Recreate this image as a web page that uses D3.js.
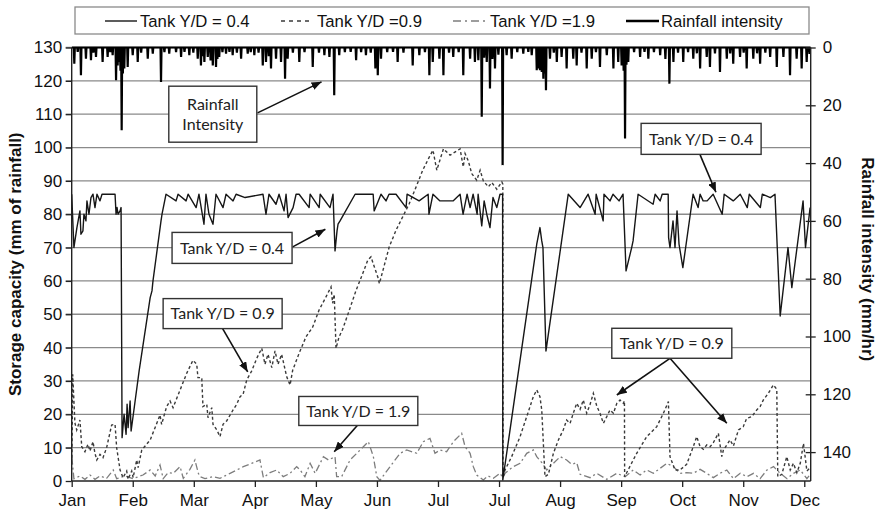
<!DOCTYPE html>
<html>
<head>
<meta charset="utf-8">
<script src="https://cdn.jsdelivr.net/npm/d3@7"></script>
<style>
  body { margin: 0; background: #fff; }
  svg { display: block; }
</style>
</head>
<body>
<svg id="chart" width="882" height="510"></svg>
<script>
// ---- axis categories / ticks ----
const monthLabels = ["Jan", "Feb", "Mar", "Apr", "May", "Jun", "Jul", "Jul", "Aug", "Sep", "Oct", "Nov", "Dec"];
const daysPerMonth = 365 / 12;
const storageTicks = [0, 10, 20, 30, 40, 50, 60, 70, 80, 90, 100, 110, 120, 130];
const intensityTicks = [0, 20, 40, 60, 80, 100, 120, 140];
const seriesNames = ["Tank Y/D = 0.4", "Tank Y/D =0.9", "Tank Y/D =1.9", "Rainfall intensity"];

// ---- storage in tank (mm of rainfall), [day, value] ----
const tank04 = [
  [0, 86], [1.1, 70], [2.6, 76], [4.1, 81], [4.6, 74], [5.6, 75], [6.1, 80], [7.1, 78], [7.6, 84], [8.6, 80],
  [9.6, 85], [10.6, 86], [11.6, 82], [12.6, 86], [14.1, 84], [15.1, 86], [21.6, 86], [22.1, 80], [22.6, 82], [23.1, 80],
  [24.1, 81], [24.6, 82], [25.1, 13], [26.1, 20], [27.1, 14], [27.6, 23], [28.1, 16], [29.1, 24], [29.6, 15], [33.6, 33],
  [39.1, 55], [40.0, 57], [40.5, 60], [44.5, 78], [45.0, 80], [47.0, 86], [52.0, 84], [53.0, 86], [57.0, 84], [58.0, 86],
  [62.0, 82], [63.4, 86], [65.9, 77], [66.9, 86], [68.4, 80], [70.4, 77], [71.9, 86], [75.4, 82], [76.9, 86], [80.4, 84],
  [81.9, 86], [86.4, 85], [95.3, 86], [96.8, 80], [98.3, 86], [101.8, 83], [103.3, 86], [105.8, 81], [106.8, 86], [107.8, 79],
  [110.3, 82], [111.8, 86], [113.3, 86], [118.3, 82], [118.8, 86], [123.3, 82], [123.8, 86], [128.7, 82], [130.2, 86], [131.2, 69],
  [132.2, 75], [132.7, 77], [133.7, 78], [141.2, 86], [150.2, 86], [150.7, 81], [152.1, 83], [154.1, 86], [156.6, 84], [158.1, 86],
  [161.6, 86], [166.6, 82], [167.1, 86], [173.1, 84], [177.6, 86], [178.0, 80], [180.0, 86], [183.5, 84], [190.0, 84], [193.5, 86],
  [195.0, 80], [197.0, 86], [198.5, 82], [200.0, 86], [202.0, 80], [202.5, 86], [204.3, 76.5], [205.5, 84], [206.8, 80], [208.4, 76],
  [209.9, 85], [211.8, 82], [213.4, 86], [214.7, 86], [214.8, 0.3], [231.7, 71], [233.3, 76], [234.2, 72], [234.8, 70], [236.3, 39],
  [247.4, 86], [253.3, 82], [257.3, 86], [260.8, 80], [261.3, 86], [264.8, 78], [265.2, 86], [268.2, 84], [269.7, 86], [272.7, 84],
  [274.7, 86], [276.2, 63], [279.0, 70], [279.7, 72], [282.2, 86], [289.7, 83], [290.7, 86], [293.2, 84], [294.2, 86], [297.2, 86],
  [297.4, 73], [298.1, 70], [299.6, 78], [300.6, 70], [301.6, 81], [302.6, 71], [304.5, 64], [309.6, 86], [312.1, 82], [313.1, 86],
  [314.6, 84], [316.6, 84], [319.6, 86], [324.1, 80], [325.1, 86], [329.6, 84], [333.1, 86], [336.6, 82], [337.6, 86], [343.1, 82],
  [344.1, 86], [348.1, 85], [350.4, 86], [353.0, 49.5], [356.9, 70], [358.8, 58], [364.4, 84], [365.6, 70], [367.9, 82]
];

const tank09 = [
  [0.1, 7], [0.5, 32], [1.6, 17.4], [2.5, 15.3], [4.1, 18.3], [5.0, 10.3], [6.6, 8.8], [8.1, 11], [9.1, 9], [10.6, 11.8],
  [11.6, 8.3], [12.5, 6.3], [14.1, 8], [15.6, 7], [17.4, 10], [19.9, 16.8], [21.6, 17], [22.4, 10], [24.1, 3.3], [25.6, 1],
  [27.4, 3], [28.1, 0.5], [29.9, 3], [30.6, 1], [32.4, 6.3], [33.1, 4], [34.9, 9.3], [39.1, 12.3], [42.4, 17.3], [44.0, 19.8],
  [44.8, 17], [47.3, 22.3], [49.0, 24], [50.5, 22], [54.0, 27.3], [57.3, 32.3], [60.4, 36.2], [62.3, 35], [62.9, 31], [64.8, 31],
  [65.4, 22.3], [67.3, 23], [67.9, 19], [69.8, 22], [70.4, 17], [72.3, 15.3], [73.9, 13.3], [75.4, 17], [77.2, 18], [80.4, 21.3],
  [82.2, 23], [83.9, 25.3], [85.4, 26], [87.2, 30.3], [89.7, 33], [92.2, 36.8], [94.7, 39.8], [96.3, 35], [97.8, 38], [99.7, 34],
  [101.3, 39], [102.8, 35], [104.6, 38], [107.1, 31.3], [108.8, 28.8], [110.1, 33.2], [113.3, 38.3], [116.7, 43.2], [120.1, 46.2], [123.2, 51.2],
  [126.7, 55.2], [129.2, 58.2], [130.0, 53.3], [130.8, 56], [131.7, 39.8], [133.2, 43.2], [135.0, 45.5], [138.3, 51.2], [141.7, 57.2], [145.0, 62.2],
  [147.5, 66.2], [149.1, 67.2], [150.8, 64.2], [152.5, 61.2], [153.3, 59.2], [155.0, 63], [158.2, 70.2], [161.6, 75.2], [164.9, 79.2], [168.2, 83.2],
  [171.6, 88.2], [174.9, 93.2], [178.2, 97.2], [180.0, 99.2], [181.9, 93.2], [185.2, 99.6], [188.5, 97.7], [193.5, 99.6], [195.1, 94.2], [196.0, 98.2],
  [197.6, 96], [199.3, 92.2], [201.8, 90.2], [203.5, 93.2], [205.1, 90], [207.6, 88.2], [209.3, 89.5], [211.8, 87.5], [214.3, 89.7], [214.8, 89],
  [214.9, 1], [215.9, 3.3], [219.2, 7.3], [223.4, 13.3], [226.7, 19.3], [230.0, 25.3], [231.7, 27.3], [233.3, 25.3], [234.2, 21.3], [235.0, 11.3],
  [235.8, 1.3], [237.5, 2], [240.0, 8.3], [242.5, 12.3], [244.9, 15.3], [246.6, 18.3], [248.3, 17.3], [249.9, 20.3], [251.6, 23.3], [253.3, 21.5],
  [254.9, 24.3], [256.6, 20.3], [258.3, 23], [259.9, 26.3], [261.6, 22.5], [263.2, 20.3], [264.9, 17.3], [266.6, 19.3], [268.2, 21.3], [269.9, 20.3],
  [271.6, 23.3], [273.2, 24.3], [274.9, 23.3], [275.4, 24], [275.5, 1.3], [281.5, 8.3], [286.5, 13.3], [291.5, 16.3], [294.8, 20.3], [297.3, 23.8],
  [298.1, 7.3], [300.6, 3.3], [303.1, 3.3], [306.4, 5], [309.7, 10.3], [311.4, 13.3], [313.1, 10.3], [314.7, 9.5], [316.4, 10.8], [318.1, 10.3],
  [319.7, 11.5], [322.2, 14.3], [323.9, 7.3], [324.7, 9.3], [326.4, 10.8], [328.0, 12.3], [329.7, 10.5], [332.2, 15.3], [334.6, 16.3], [336.3, 18.8],
  [338.8, 19.3], [341.3, 21.3], [343.0, 22.3], [344.6, 24.3], [347.1, 26.3], [349.6, 28.8], [351.3, 27.5], [351.8, 1.3], [353.8, 2], [356.3, 7.3],
  [358.0, 3.3], [359.6, 5.3], [361.3, 2.5], [363.0, 5.3], [364.6, 11.3], [366.3, 3], [368.0, 4]
];

const tank19 = [
  [0.1, 7], [1.1, 0.7], [4.1, 1.5], [6.6, 0.5], [9.1, 1.8], [11.6, 0.5], [14.1, 1.5], [17.4, 0.8], [20.7, 3.3], [22.4, 0.7],
  [26.6, 1.5], [30.6, 0.7], [35.5, 1.8], [39.1, 3.3], [41.6, 1.5], [44.0, 4.8], [45.6, 0.7], [48.0, 2.5], [50.6, 2.3], [54.0, 4.3],
  [55.6, 0.8], [58.9, 3.5], [61.4, 6.3], [63.1, 2.3], [63.9, 1.3], [66.4, 0.7], [70.4, 1.3], [73.9, 0.8], [78.9, 2.3], [82.2, 3.3],
  [85.5, 4.3], [89.7, 5.3], [93.8, 6.3], [95.5, 1], [98.8, 2.5], [102.1, 3.3], [105.4, 1.3], [108.8, 2.3], [112.1, 4.3], [113.8, 3.3],
  [116.2, 1.3], [118.8, 5.3], [121.3, 2.3], [125.4, 7.3], [127.9, 6.3], [131.2, 7.3], [132.0, 1.3], [134.5, 1.3], [138.7, 6.3], [143.7, 9.3],
  [147.8, 11.8], [150.3, 7.3], [152.0, 1.3], [153.6, 0.2], [158.6, 4.3], [163.6, 8.3], [166.9, 9.3], [171.9, 8.3], [175.2, 11.8], [178.5, 12.8],
  [181.0, 8.3], [183.5, 9.3], [186.8, 8.8], [190.2, 11.8], [194.3, 14.3], [196.0, 10.3], [198.5, 8.3], [200.1, 4.3], [201.8, 1.8], [205.1, 0.3],
  [207.4, 1.5], [210.1, 0.8], [213.4, 2.3], [214.8, 1], [215.9, 2.3], [220.0, 4.3], [223.4, 5.3], [226.7, 8.3], [230.0, 9.3], [231.7, 7.3],
  [234.2, 5.5], [236.7, 3.3], [240.0, 5.3], [243.4, 7.3], [246.6, 6.3], [249.1, 5], [251.6, 5.5], [253.3, 2], [258.3, 1], [261.6, 2.3],
  [266.6, 0.5], [271.6, 2.3], [275.7, 1.3], [279.8, 3.3], [283.2, 1.8], [286.5, 3.3], [289.8, 2.3], [296.5, 5.3], [299.8, 4.3], [303.1, 2.3],
  [306.4, 2.5], [309.7, 2.3], [313.1, 3.5], [316.4, 2.3], [319.7, 1], [323.0, 2.3], [326.4, 3.3], [329.7, 0.7], [333.1, 2.3], [336.4, 1.3],
  [339.7, 2.3], [343.0, 0.7], [346.4, 3.3], [349.7, 4.3], [353.0, 2.3], [356.4, 0.7], [359.6, 2.3], [363.0, 3.3], [366.3, 0.7], [368.0, 2]
];

// ---- rainfall intensity (mm/hr), [day, peak] ----
const rainfall = [
  [1.3, 5.6], [3.0, 1.5], [4.6, 9.6], [7.1, 3.9], [9.6, 4.4], [10.8, 1.8], [12.1, 3.3], [15.4, 5.0], [17.9, 3.3], [19.2, 1.6],
  [20.4, 2.7], [22.1, 11.3], [22.9, 6.2], [23.7, 5.0], [24.3, 8.0], [24.9, 28.6], [25.5, 9.0], [26.2, 7.3], [27.9, 6.7], [30.4, 2.7],
  [32.9, 5.0], [34.6, 1.8], [37.9, 3.9], [40.4, 2.1], [44.5, 11.9], [46.2, 1.6], [48.6, 2.1], [52.0, 1.6], [54.5, 3.3], [56.2, 1.5],
  [58.6, 2.7], [60.6, 1.8], [62.8, 3.9], [64.4, 6.2], [65.2, 3.0], [66.1, 5.0], [67.8, 3.3], [69.2, 4.5], [70.3, 6.2], [71.9, 6.7],
  [72.6, 4.0], [73.5, 3.3], [75.1, 1.6], [76.9, 2.1], [78.6, 1.5], [80.2, 2.7], [82.3, 1.8], [84.4, 3.9], [87.7, 2.1], [89.2, 1.6],
  [91.0, 2.7], [93.1, 1.8], [95.2, 6.2], [96.8, 5.0], [98.2, 3.0], [99.3, 7.3], [101.8, 3.9], [104.3, 5.0], [106.3, 10.8], [107.6, 3.9],
  [110.2, 1.8], [113.4, 5.0], [116.0, 1.6], [120.1, 6.7], [123.2, 1.8], [125.9, 2.7], [128.4, 3.3], [130.8, 16.5], [133.3, 2.7], [136.1, 1.6],
  [139.0, 1.5], [141.7, 4.4], [144.2, 1.6], [146.6, 2.7], [149.0, 1.8], [151.3, 7.3], [152.5, 9.6], [154.1, 3.9], [157.2, 1.6], [160.1, 1.5],
  [162.4, 5.0], [165.3, 1.8], [169.9, 6.2], [173.2, 2.7], [176.0, 1.6], [178.2, 9.6], [179.9, 5.0], [183.2, 3.9], [185.2, 9.6], [188.0, 1.8],
  [190.1, 3.3], [192.8, 1.6], [195.1, 9.6], [198.5, 3.9], [200.9, 5.0], [202.6, 4.4], [204.3, 24.0], [205.5, 3.5], [206.8, 5.0], [208.4, 14.2],
  [209.6, 4.0], [210.9, 7.3], [212.6, 2.5], [214.7, 40.7], [216.7, 2.7], [219.2, 3.9], [222.0, 1.6], [225.0, 2.1], [227.5, 1.5], [229.2, 2.7],
  [231.7, 7.9], [232.5, 7.3], [233.3, 7.9], [234.2, 8.5], [235.0, 10.8], [235.6, 9.0], [236.3, 14.8], [238.3, 3.9], [240.2, 1.8], [241.7, 5.0],
  [244.1, 3.3], [246.6, 7.3], [249.9, 3.9], [251.6, 6.2], [254.0, 1.8], [256.6, 7.3], [259.1, 3.9], [261.2, 1.6], [263.2, 6.7], [266.6, 2.7],
  [269.9, 7.3], [272.3, 5.0], [274.0, 6.2], [275.0, 8.0], [275.7, 31.5], [276.4, 6.0], [277.3, 5.0], [280.2, 1.6], [283.2, 3.3], [285.4, 1.5],
  [287.3, 3.9], [290.1, 1.6], [293.2, 2.7], [295.8, 4.0], [297.8, 12.5], [299.8, 5.0], [302.1, 1.8], [304.7, 5.0], [307.1, 1.6], [309.7, 3.9],
  [311.5, 2.0], [313.1, 7.3], [316.4, 3.3], [318.0, 6.7], [320.5, 2.0], [323.0, 8.5], [326.4, 3.9], [328.1, 2.0], [329.6, 5.6], [333.0, 3.3],
  [334.8, 1.8], [336.3, 7.3], [339.6, 3.9], [341.5, 2.0], [343.0, 5.6], [345.6, 1.8], [348.0, 3.3], [351.3, 6.7], [354.6, 3.3], [357.9, 9.6],
  [361.2, 3.9], [363.7, 7.3], [366.2, 5.0], [367.6, 2.2]
];

// ---- call-out boxes, positioned in storage units ----
const callouts = [
  { lines: ["Rainfall", "Intensity"], at: [70.3, 110.0], w: 88, h: 56, from: [92.6, 110.4], to: [[124.5, 119.7]] },
  { lines: ["Tank Y/D = 0.4"], at: [79.9, 69.9], w: 120, h: 31, from: [110.1, 70.2], to: [[126.4, 75.5]] },
  { lines: ["Tank Y/D = 0.4"], at: [313.6, 102.6], w: 120, h: 31, from: [313.1, 97.8], to: [[321.0, 86.6]] },
  { lines: ["Tank Y/D = 0.9"], at: [75.2, 50.2], w: 119, h: 30, from: [75.2, 45.7], to: [[87.7, 32.7]] },
  { lines: ["Tank Y/D = 1.9"], at: [142.8, 21.0], w: 119, h: 29, from: [142.5, 16.8], to: [[130.8, 8.8]] },
  { lines: ["Tank Y/D = 0.9"], at: [299.0, 41.3], w: 120, h: 30, from: [298.1, 36.8], to: [[271.6, 25.8], [326.4, 17.3]] }
];

// ---- layout ----
const plot = { left: 71.7, right: 810.7, top: 47.5, bottom: 481 };
const FONT = "'Liberation Sans', Arial, sans-serif";
const NOTE_FONT = "Lato, 'Open Sans', sans-serif";

const svg = d3.select("#chart");
svg.append("rect").attr("width", 882).attr("height", 510).attr("fill", "#fff");

const x = d3.scaleLinear().domain([0, 368.2]).range([plot.left, plot.right]);
const yL = d3.scaleLinear().domain([0, 130]).range([plot.bottom, plot.top]);
const yR = d3.scaleLinear().domain([0, 150]).range([plot.top, plot.bottom]);

svg.append("defs").append("clipPath").attr("id", "plotClip")
  .append("rect")
  .attr("x", plot.left).attr("y", plot.top - 2)
  .attr("width", plot.right - plot.left).attr("height", plot.bottom - plot.top + 2);

svg.select("defs").append("marker")
  .attr("id", "arrowHead")
  .attr("viewBox", "0 0 10 8")
  .attr("refX", 10).attr("refY", 4)
  .attr("markerUnits", "userSpaceOnUse")
  .attr("markerWidth", 10).attr("markerHeight", 8)
  .attr("orient", "auto")
  .append("path").attr("d", "M0,0 L10,4 L0,8 Z").attr("fill", "#111");

// horizontal gridlines (left-axis ticks)
svg.append("g").selectAll("line")
  .data(storageTicks.filter(d => d > 0))
  .join("line")
  .attr("x1", plot.left - 6).attr("x2", plot.right)
  .attr("y1", d => yL(d)).attr("y2", d => yL(d))
  .attr("stroke", "#8a8a8a").attr("stroke-width", 1.3);

const lineL = d3.line().x(d => x(d[0])).y(d => yL(d[1]));
const series = svg.append("g").attr("clip-path", "url(#plotClip)");

series.append("path").datum(tank19)
  .attr("d", lineL).attr("fill", "none")
  .attr("stroke", "#7d7d7d").attr("stroke-width", 1.3)
  .attr("stroke-dasharray", "7,3,2,3");

series.append("path").datum(tank09)
  .attr("d", lineL).attr("fill", "none")
  .attr("stroke", "#3a3a3a").attr("stroke-width", 1.4)
  .attr("stroke-dasharray", "3,2.5");

series.append("path").datum(tank04)
  .attr("d", lineL).attr("fill", "none")
  .attr("stroke", "#161616").attr("stroke-width", 1.4)
  .attr("stroke-linejoin", "round");

// rainfall: each reading rises from zero to its peak and back
const rainTrace = [[0, 0]];
rainfall.forEach(([d, v]) => { rainTrace.push([d - 0.25, 0], [d, v], [d + 0.25, 0]); });
rainTrace.push([368.2, 0]);
series.append("path").datum(rainTrace)
  .attr("d", d3.line().x(d => x(d[0])).y(d => yR(d[1])))
  .attr("fill", "none").attr("stroke", "#000").attr("stroke-width", 2.2)
  .attr("stroke-linejoin", "miter");

// ---- axes ----
function styleAxis(g) {
  g.select(".domain").attr("stroke", "#222").attr("stroke-width", 1.4);
  g.selectAll(".tick line").attr("stroke", "#222").attr("stroke-width", 1.3);
  g.selectAll(".tick text").attr("fill", "#111").style("font-family", FONT).style("font-size", "17px");
}

svg.append("g").attr("transform", `translate(${plot.left},0)`)
  .call(d3.axisLeft(yL).tickValues(storageTicks).tickSize(6).tickPadding(3.5))
  .call(styleAxis)
  .call(g => g.select(".domain").attr("d", `M0,${plot.top}V${plot.bottom}`));

const monthTicks = monthLabels.map((m, i) => i * daysPerMonth);
svg.append("g").attr("transform", `translate(0,${plot.bottom})`)
  .call(d3.axisBottom(x).tickValues(monthTicks).tickFormat((d, i) => monthLabels[i]).tickSize(6).tickPadding(6.5))
  .call(styleAxis)
  .call(g => g.select(".domain").attr("d", `M${plot.left},0H${plot.right}`));

svg.append("g").attr("transform", `translate(${plot.right},0)`)
  .call(d3.axisRight(yR).tickValues(intensityTicks).tickSize(5).tickPadding(7))
  .call(styleAxis)
  .call(g => g.select(".domain").attr("d", `M0,${plot.top}V${plot.bottom}`))
  .call(g => g.selectAll(".tick line").attr("x1", -5).attr("x2", 5));

// axis titles
svg.append("text")
  .attr("transform", `translate(21,${(plot.top + plot.bottom) / 2 + 0}) rotate(-90)`)
  .attr("text-anchor", "middle")
  .style("font-family", FONT).style("font-size", "17px").style("font-weight", "bold")
  .attr("fill", "#111")
  .text("Storage capacity (mm of rainfall)");

svg.append("text")
  .attr("transform", `translate(862,${(plot.top + plot.bottom) / 2 - 5}) rotate(90)`)
  .attr("text-anchor", "middle")
  .style("font-family", FONT).style("font-size", "17px").style("font-weight", "bold")
  .attr("fill", "#111")
  .text("Rainfall intensity (mm/hr)");

// ---- call-outs ----
const notes = svg.append("g");
callouts.forEach(c => {
  const cx = x(c.at[0]), cy = yL(c.at[1]);
  c.to.forEach(t => {
    notes.append("line")
      .attr("x1", x(c.from[0])).attr("y1", yL(c.from[1]))
      .attr("x2", x(t[0])).attr("y2", yL(t[1]))
      .attr("stroke", "#111").attr("stroke-width", 1.6)
      .attr("marker-end", "url(#arrowHead)");
  });
  notes.append("rect")
    .attr("x", cx - c.w / 2).attr("y", cy - c.h / 2)
    .attr("width", c.w).attr("height", c.h)
    .attr("fill", "#fff").attr("stroke", "#333").attr("stroke-width", 1.4);
  const lh = 20;
  c.lines.forEach((t, i) => {
    notes.append("text")
      .attr("x", cx).attr("y", cy + (i - (c.lines.length - 1) / 2) * lh)
      .attr("dy", "0.36em")
      .attr("text-anchor", "middle")
      .style("font-family", NOTE_FONT).style("font-size", "16px")
      .attr("fill", "#222")
      .text(t);
  });
});

// ---- legend ----
const legend = svg.append("g");
legend.append("rect").attr("x", 75).attr("y", 7).attr("width", 734).attr("height", 27)
  .attr("fill", "#fff").attr("stroke", "#8a8a8a").attr("stroke-width", 1.3);
const legendItems = [
  { name: seriesNames[0], x0: 105, x1: 137, tx: 140, stroke: "#161616", width: 1.4, dash: null },
  { name: seriesNames[1], x0: 281, x1: 313, tx: 317, stroke: "#3a3a3a", width: 1.4, dash: "4,4" },
  { name: seriesNames[2], x0: 453, x1: 488, tx: 490, stroke: "#7d7d7d", width: 1.4, dash: "8,4,2,4" },
  { name: seriesNames[3], x0: 626, x1: 659, tx: 661, stroke: "#000", width: 2.6, dash: null }
];
legendItems.forEach(it => {
  legend.append("line").attr("x1", it.x0).attr("x2", it.x1).attr("y1", 21).attr("y2", 21)
    .attr("stroke", it.stroke).attr("stroke-width", it.width)
    .attr("stroke-dasharray", it.dash);
  legend.append("text").attr("x", it.tx).attr("y", 27)
    .style("font-family", FONT).style("font-size", "16.7px").attr("fill", "#111")
    .text(it.name);
});
</script>
</body>
</html>
